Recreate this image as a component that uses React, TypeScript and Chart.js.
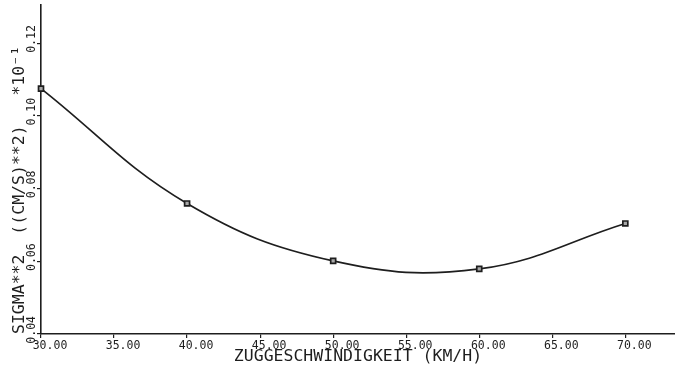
import React, { useEffect, useRef } from 'react';
import { Chart, registerables } from 'chart.js';

Chart.register(...registerables);

// Data
const speeds = [30, 40, 50, 60, 70];
const sigma2 = [0.1075, 0.0759, 0.0601, 0.0579, 0.0704];
const xTickValues = [30, 35, 40, 45, 50, 55, 60, 65, 70];
const yTickValues = [0.04, 0.06, 0.08, 0.1, 0.12];
const xTitle = 'ZUGGESCHWINDIGKEIT (KM/H)';
const yTitle = 'SIGMA**2  ((CM/S)**2)   *10⁻¹';

const INK = '#1e1e1e';
const MONO = '"DejaVu Sans Mono", "Liberation Mono", monospace';

export default function App() {
  const ref = useRef<HTMLCanvasElement | null>(null);

  useEffect(() => {
    if (!ref.current) return;
    const chart = new Chart(ref.current, {
      type: 'line',
      data: {
        datasets: [
          {
            data: speeds.map((x, i) => ({ x, y: sigma2[i] })),
            borderColor: INK,
            borderWidth: 1.7,
            tension: 0.4,
            pointStyle: 'rect',
            pointRadius: 3.5,
            pointBorderWidth: 1.7,
            pointBorderColor: INK,
            pointBackgroundColor: '#a8a8a8',
            clip: false as any,
            fill: false,
          },
        ],
      },
      options: {
        responsive: false,
        animation: false,
        layout: { autoPadding: false, padding: { top: 5, right: 0, bottom: 0, left: 0 } },
        plugins: { legend: { display: false }, tooltip: { enabled: false } },
        scales: {
          x: {
            type: 'linear',
            min: 30,
            max: 73.4,
            afterBuildTicks: (s: any) => {
              s.ticks = xTickValues.map((v) => ({ value: v }));
            },
            afterFit: (s: any) => {
              s.height = 39;
              s.paddingLeft = 0;
              s.paddingRight = 0;
            },
            grid: {
              drawOnChartArea: false,
              drawTicks: true,
              tickLength: 4,
              color: INK,
              lineWidth: 1.2,
            },
            border: { display: true, color: INK, width: 1.6 },
            ticks: {
              color: INK,
              font: { family: MONO, size: 11.5 },
              padding: 1,
              labelOffset: 9,
              maxRotation: 0,
              minRotation: 0,
              autoSkip: false,
              callback: (v: any) => Number(v).toFixed(2),
            },
            title: {
              display: true,
              text: xTitle,
              color: INK,
              font: { family: MONO, size: 16.5 },
              padding: { top: 0, bottom: 6 },
            },
          },
          y: {
            type: 'linear',
            min: 0.04,
            max: 0.1305,
            afterBuildTicks: (s: any) => {
              s.ticks = yTickValues.map((v) => ({ value: v }));
            },
            afterFit: (s: any) => {
              s.width = 41;
              s.paddingTop = 0;
              s.paddingBottom = 0;
            },
            grid: {
              drawOnChartArea: false,
              drawTicks: true,
              tickLength: 4,
              color: INK,
              lineWidth: 1.2,
            },
            border: { display: true, color: INK, width: 1.6 },
            ticks: {
              color: INK,
              font: { family: MONO, size: 11.5 },
              padding: 5,
              minRotation: 90,
              maxRotation: 90,
              labelOffset: -18,
              autoSkip: false,
              callback: (v: any) => Number(v).toFixed(2),
            },
            title: {
              display: true,
              text: yTitle,
              color: INK,
              align: 'start',
              font: { family: MONO, size: 16.5 },
              padding: { top: 10, bottom: 0 },
            },
          },
        },
      },
    });
    return () => chart.destroy();
  }, []);

  return (
    <canvas
      ref={ref}
      width={675}
      height={373}
      style={{ position: 'absolute', left: 0, top: 0, width: 675, height: 373 }}
    />
  );
}
